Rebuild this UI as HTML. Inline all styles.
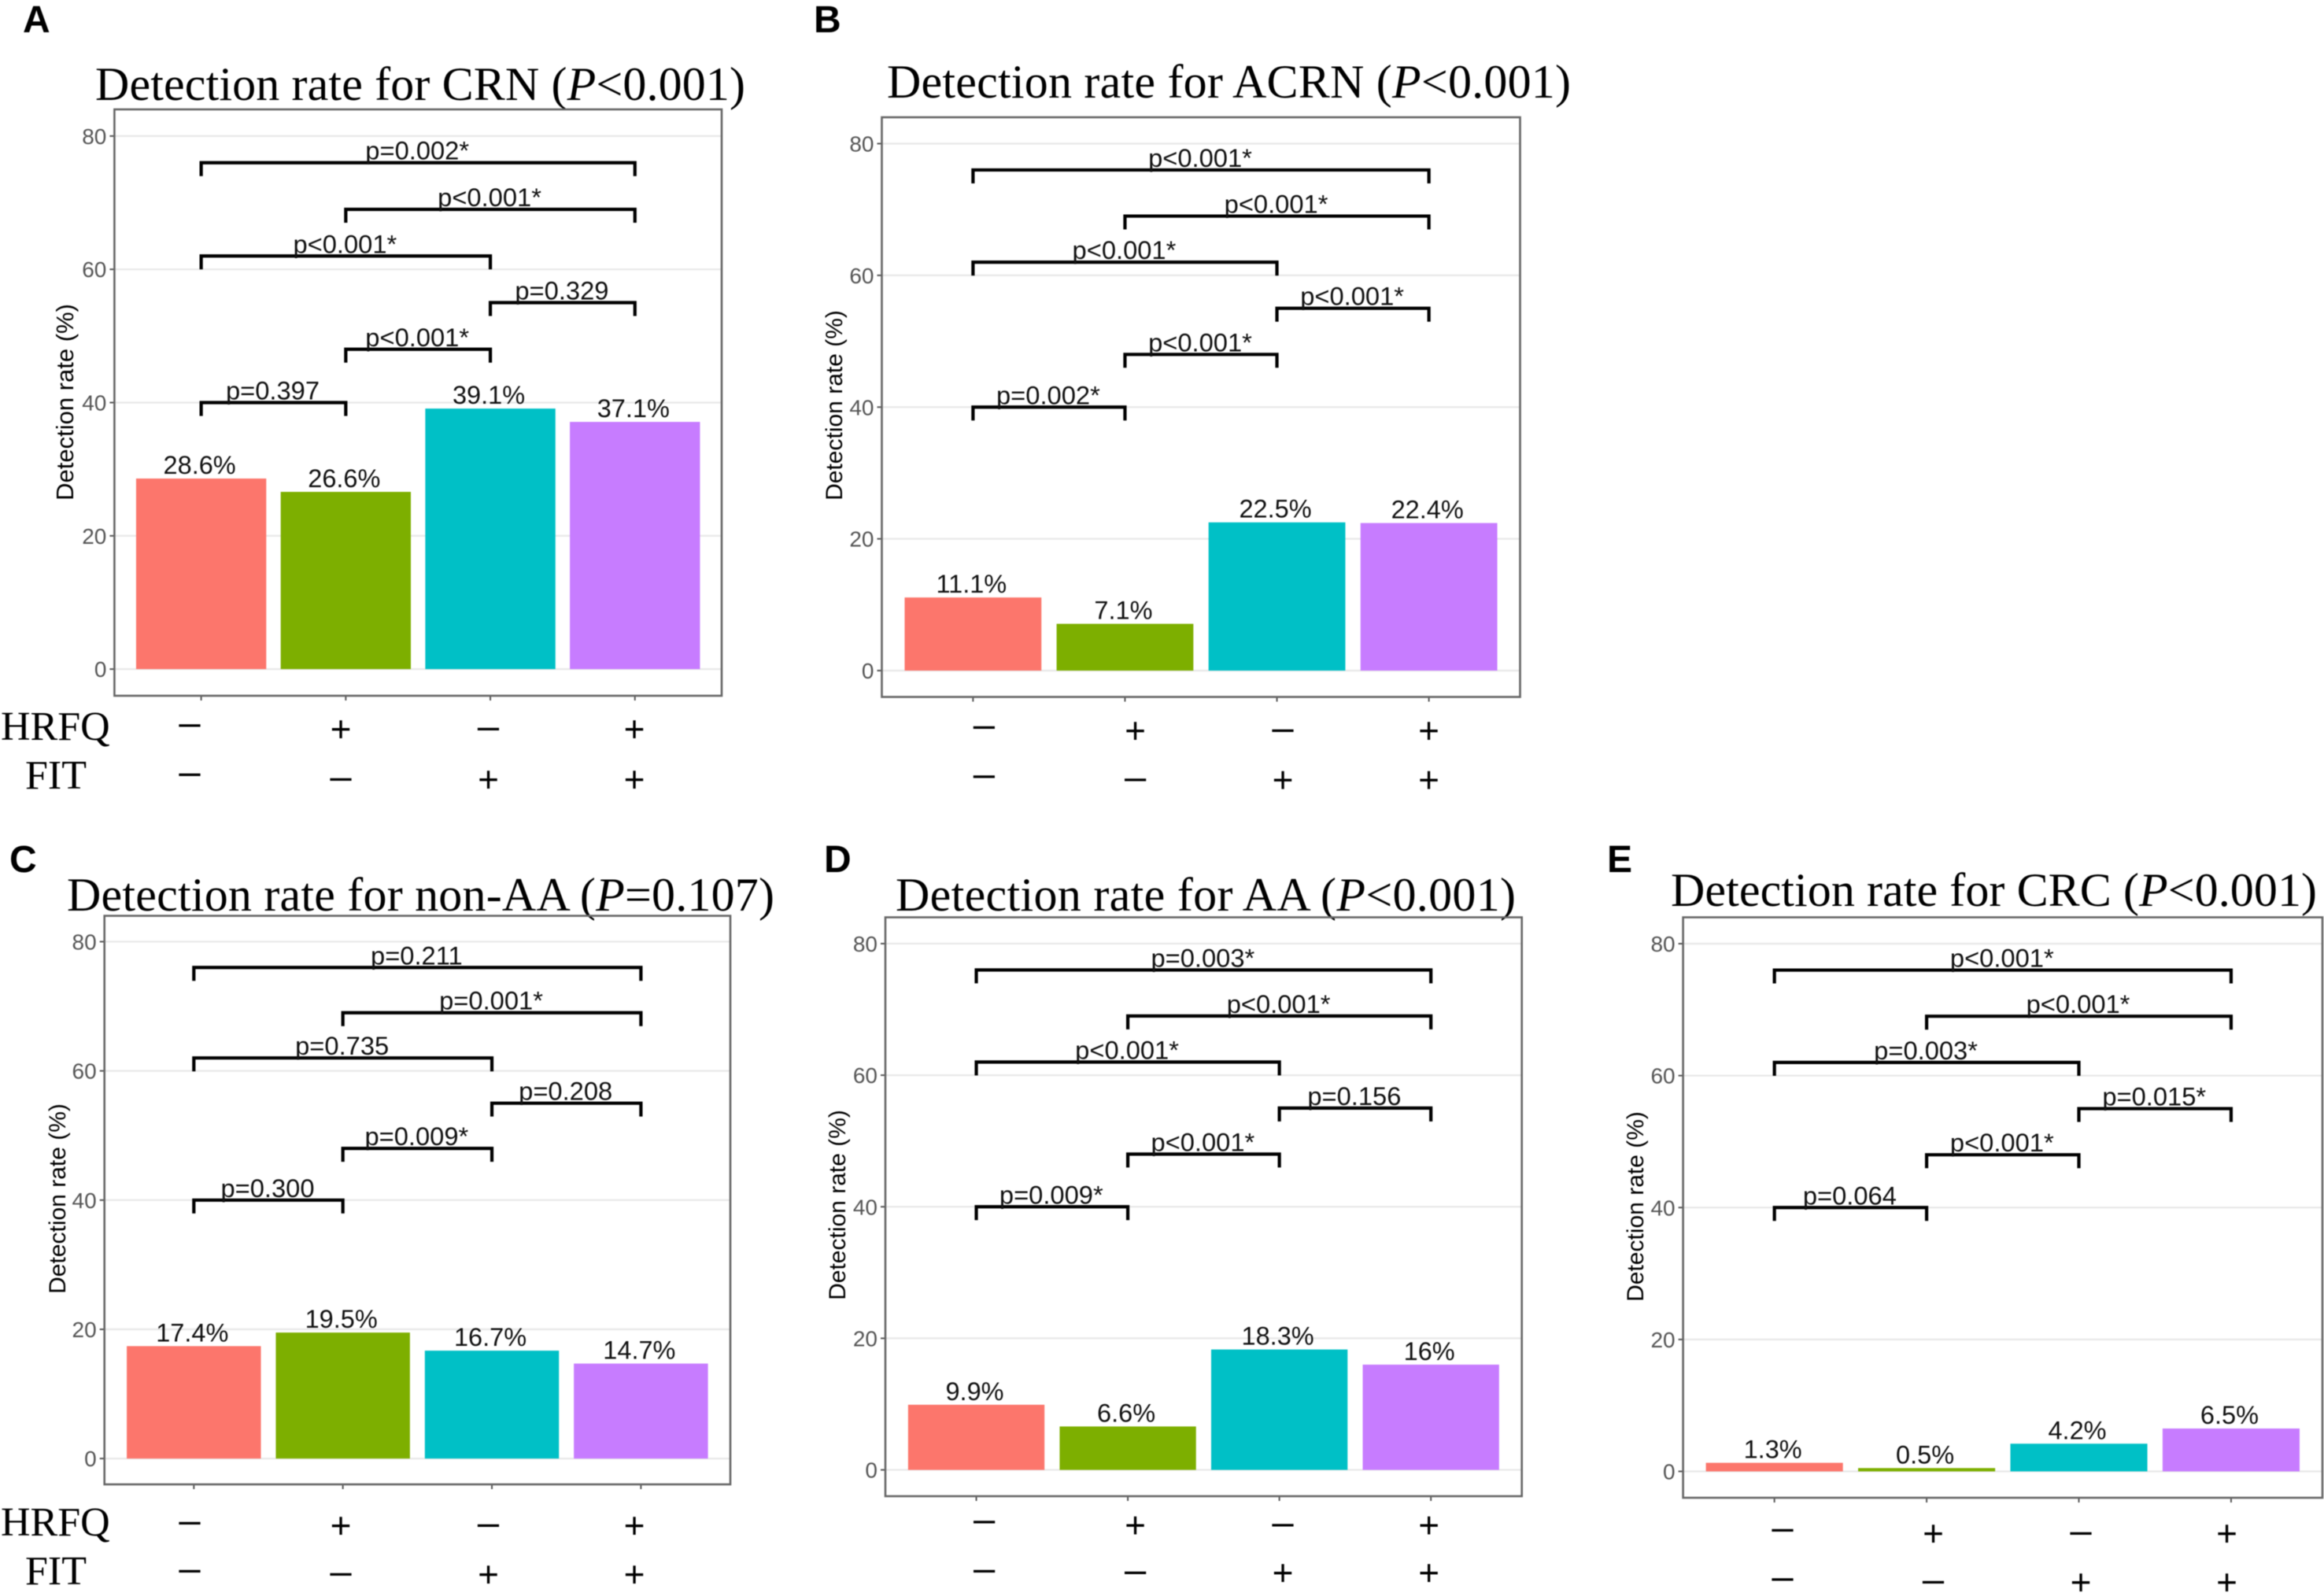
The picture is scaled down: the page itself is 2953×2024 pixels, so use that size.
<!DOCTYPE html>
<html lang="en">
<head>
<meta charset="utf-8">
<title>Detection rates by HRFQ and FIT</title>
<style>
html,body{margin:0;padding:0;background:#fff;width:2953px;height:2024px;overflow:hidden}
svg{display:block;filter:blur(.55px)}
text{font-family:"Liberation Sans",sans-serif}
.title,.rowlab{font-family:"Liberation Serif",serif;fill:#000}
.title{font-size:60px}
.rowlab{font-size:52px}
.letter{font-size:48px;font-weight:bold;fill:#000}
.ytitle{font-size:30px;fill:#000}
</style>
</head>
<body>
<svg id="figure" xmlns="http://www.w3.org/2000/svg" width="2953" height="2024" viewBox="0 0 2953 2024">
  <rect width="2953" height="2024" fill="#fff"/>

  <g id="panel-a">
    <text class="letter" x="29" y="41">A</text>
    <text class="title" x="121" y="127" textLength="826" lengthAdjust="spacing">Detection rate for CRN (<tspan font-style="italic">P</tspan>&lt;0.001)</text>
    <text class="ytitle" style="font-size:31px" transform="translate(93,511) rotate(-90)" text-anchor="middle">Detection rate (%)</text>
    <text class="rowlab" x="1" y="940">HRFQ</text>
    <text class="rowlab" x="32" y="1002">FIT</text>
  </g>

  <g id="panel-b">
    <text class="letter" x="1034" y="41">B</text>
    <text class="title" x="1127" y="124" textLength="869" lengthAdjust="spacing">Detection rate for ACRN (<tspan font-style="italic">P</tspan>&lt;0.001)</text>
    <text class="ytitle" transform="translate(1070,515) rotate(-90)" text-anchor="middle">Detection rate (%)</text>
  </g>

  <g id="panel-c">
    <text class="letter" x="12" y="1108">C</text>
    <text class="title" x="85" y="1157" textLength="899" lengthAdjust="spacing">Detection rate for non-AA (<tspan font-style="italic">P</tspan>=0.107)</text>
    <text class="ytitle" transform="translate(83,1523) rotate(-90)" text-anchor="middle">Detection rate (%)</text>
    <text class="rowlab" x="1" y="1951">HRFQ</text>
    <text class="rowlab" x="32" y="2013">FIT</text>
  </g>

  <g id="panel-d">
    <text class="letter" x="1047" y="1108">D</text>
    <text class="title" x="1138" y="1157" textLength="788" lengthAdjust="spacing">Detection rate for AA (<tspan font-style="italic">P</tspan>&lt;0.001)</text>
    <text class="ytitle" transform="translate(1074,1531) rotate(-90)" text-anchor="middle">Detection rate (%)</text>
  </g>

  <g id="panel-e">
    <text class="letter" x="2042" y="1108">E</text>
    <text class="title" x="2123" y="1151" textLength="821" lengthAdjust="spacing">Detection rate for CRC (<tspan font-style="italic">P</tspan>&lt;0.001)</text>
    <text class="ytitle" transform="translate(2088,1533) rotate(-90)" text-anchor="middle">Detection rate (%)</text>
  </g>
</svg>

<script>
// ---- chart data ----
var categories = ['HRFQ- FIT-', 'HRFQ+ FIT-', 'HRFQ- FIT+', 'HRFQ+ FIT+'];
var hrfqSigns = ['\u2013', '+', '\u2013', '+'];
var fitSigns = ['\u2013', '\u2013', '+', '+'];
var yTicks = [0, 20, 40, 60, 80];
var barColors = ['#FC766C', '#7DAF00', '#00C0C6', '#C77CFF'];

var crnValues = [28.6, 26.6, 39.1, 37.1];
var acrnValues = [11.1, 7.1, 22.5, 22.4];
var nonAaValues = [17.4, 19.5, 16.7, 14.7];
var aaValues = [9.9, 6.6, 18.3, 16];
var crcValues = [1.3, 0.5, 4.2, 6.5];

// comparison brackets: first category, second category, height on the y axis
var bracketFrom = [0, 1, 0, 2, 1, 0];
var bracketTo = [3, 3, 2, 3, 2, 1];
var bracketHeights = [76, 69, 62, 55, 48, 40];

var crnPLabels = ['p=0.002*', 'p<0.001*', 'p<0.001*', 'p=0.329', 'p<0.001*', 'p=0.397'];
var acrnPLabels = ['p<0.001*', 'p<0.001*', 'p<0.001*', 'p<0.001*', 'p<0.001*', 'p=0.002*'];
var nonAaPLabels = ['p=0.211', 'p=0.001*', 'p=0.735', 'p=0.208', 'p=0.009*', 'p=0.300'];
var aaPLabels = ['p=0.003*', 'p<0.001*', 'p<0.001*', 'p=0.156', 'p<0.001*', 'p=0.009*'];
var crcPLabels = ['p<0.001*', 'p<0.001*', 'p=0.003*', 'p=0.015*', 'p<0.001*', 'p=0.064'];

// ---- layout (separate from data) ----
var layouts = {
  a: {frame: [145.4, 139, 917, 884], signX: [241, 433, 620.5, 806], row1: [921.7, 926], row2: [984, 990]},
  b: {frame: [1120.5, 149, 1931.5, 885.5], signX: [1250.4, 1442.6, 1630, 1815.6], row1: [924, 928], row2: [986.7, 990.6]},
  c: {frame: [132.7, 1163.6, 928, 1886], signX: [241, 433, 620.5, 806], row1: [1935, 1938], row2: [1996, 2000]},
  d: {frame: [1125, 1165.5, 1933.7, 1901], signX: [1250.6, 1442.6, 1630, 1815.7], row1: [1933.7, 1937.5], row2: [1996, 1998]},
  e: {frame: [2138.6, 1165.5, 2951, 1903], signX: [2265, 2456.5, 2644, 2829.6], row1: [1944, 1948], row2: [2006.5, 2010]}
};

var NS = 'http://www.w3.org/2000/svg';

function make(parent, tag, attrs, text) {
  var el = document.createElementNS(NS, tag);
  for (var k in attrs) el.setAttribute(k, attrs[k]);
  if (text !== undefined) el.textContent = text;
  parent.appendChild(el);
  return el;
}

function drawPanel(key, values, pLabels) {
  var g = document.getElementById('panel-' + key);
  var L = layouts[key];
  var left = L.frame[0], top = L.frame[1], right = L.frame[2], bottom = L.frame[3];

  // discrete x axis with ggplot 0.6 unit expansion; y axis -4..84
  var step = (right - left) / 4.2;
  function xScale(i) { return left + (i + 0.6) * step; }
  function yScale(v) { return bottom - (v + 4) / 88 * (bottom - top); }
  var barWidth = step * 0.9;

  yTicks.forEach(function (t) {
    var grid = make(g, 'line', {x1: left, x2: right, y1: yScale(t), y2: yScale(t), stroke: '#e8e8e8', 'stroke-width': 2.2});
    
    
    var tick = make(g, 'line', {x1: left - 6, x2: left, y1: yScale(t), y2: yScale(t), stroke: '#555', 'stroke-width': 2});
    
    
    var label = make(g, 'text', {x: left - 10, y: yScale(t) + 10, 'text-anchor': 'end', 'font-size': 28, fill: '#555'}, String(t));
    
    
  });

  values.forEach(function (v, i) {
    var bar = make(g, 'rect', {x: xScale(i) - barWidth / 2, y: yScale(v), width: barWidth, height: yScale(0) - yScale(v), fill: barColors[i]});
    
    
    var valueLabel = make(g, 'text', {x: xScale(i) - 2, y: yScale(v) - 6, 'text-anchor': 'middle', 'font-size': 32.5, fill: '#111'}, v + '%');
    
    
    var xt = make(g, 'line', {x1: xScale(i), x2: xScale(i), y1: bottom, y2: bottom + 6, stroke: '#555', 'stroke-width': 2});
    
    
  });

  var frame = make(g, 'rect', {x: left, y: top, width: right - left, height: bottom - top, fill: 'none', stroke: '#666', 'stroke-width': 2.6});
  
  

  bracketHeights.forEach(function (h, i) {
    var x1 = xScale(bracketFrom[i]), x2 = xScale(bracketTo[i]), y = yScale(h);
    var path = make(g, 'path', {d: 'M' + x1 + ' ' + (y + 17) + 'V' + y + 'H' + x2 + 'V' + (y + 17), fill: 'none', stroke: '#000', 'stroke-width': 4.2});
    
    
    var p = make(g, 'text', {x: (x1 + x2) / 2 - 1, y: y - 4, 'text-anchor': 'middle', 'font-size': 32.7, fill: '#111'}, pLabels[i]);
    
    
  });

  function drawSign(sign, i, yc, rowName) {
    var isPlus = sign === '+';
    var s = make(g, 'text', {x: L.signX[i], y: yc + (isPlus ? 16 : 13), 'text-anchor': 'middle', 'font-size': isPlus ? 46 : 49, fill: '#000'}, sign);
    
    
  }
  hrfqSigns.forEach(function (sign, i) {
    drawSign(sign, i, i === 0 ? L.row1[0] : L.row1[1], 'hrfq');
  });
  fitSigns.forEach(function (sign, i) {
    drawSign(sign, i, i === 0 ? L.row2[0] : L.row2[1], 'fit');
  });
}

drawPanel('a', crnValues, crnPLabels);
drawPanel('b', acrnValues, acrnPLabels);
drawPanel('c', nonAaValues, nonAaPLabels);
drawPanel('d', aaValues, aaPLabels);
drawPanel('e', crcValues, crcPLabels);
</script>
</body>
</html>
